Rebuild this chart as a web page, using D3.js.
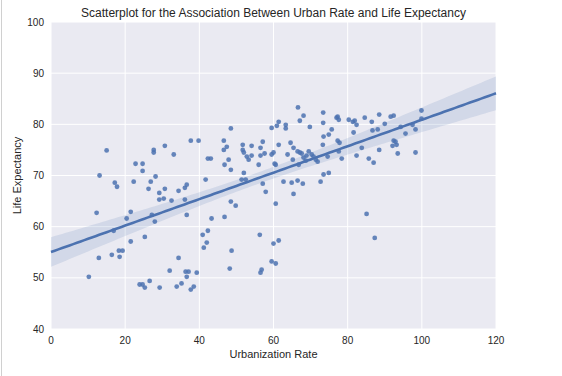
<!DOCTYPE html>
<html>
<head>
<meta charset="utf-8">
<script src="https://cdn.jsdelivr.net/npm/d3@7"></script>
<style>
  body { margin: 0; background: #fff; }
  text { font-family: "Liberation Sans", Arial, sans-serif; }
</style>
</head>
<body>
<div id="chart"></div>
<script>
// urbanization rate (x) and life expectancy (y)
const urbanRate = [
  15.0, 13.1, 17.2, 17.8, 22.8, 24.7, 24.7, 27.7, 27.7, 22.3, 26.9, 28.2, 26.3, 29.2, 29.2,
  12.3, 21.5, 20.4, 16.9, 27.2, 28.0, 21.5, 25.3, 12.9, 16.4, 18.3, 19.3, 18.5, 10.2, 23.9,
  24.7, 25.3, 26.6, 29.3,
  48.5, 37.7, 39.8, 46.6, 47.4, 46.6, 30.7, 33.1, 51.7, 54.1, 57.1, 56.5, 51.7, 52.0, 52.8,
  53.3, 54.1, 56.5, 56.0, 42.3, 43.1, 47.9, 46.8, 48.5, 30.7, 30.4, 32.5, 34.4, 36.1, 36.6,
  36.1, 41.7, 52.0, 51.4, 52.5, 57.1, 57.9, 48.5, 49.8, 36.6, 43.3, 46.8,
  40.9, 42.3, 42.0, 41.2, 56.3, 48.7, 34.4, 32.0, 36.3, 37.1, 36.6, 39.3, 48.2, 56.8, 56.5,
  33.9, 35.2, 37.7, 38.5,
  66.6, 68.1, 67.1, 61.4, 60.9, 63.3, 63.3, 59.5, 73.4, 73.4, 69.8, 77.0, 77.6, 77.3, 80.3,
  81.4, 81.9, 82.4, 84.6, 86.5, 88.5, 81.6, 86.7, 88.1, 57.6, 61.4, 64.6, 65.4, 59.5, 60.0,
  63.8, 65.2, 66.5, 67.1, 67.6, 68.1, 68.7, 68.9, 69.5, 70.3, 70.8, 71.4, 71.9, 66.8, 60.3,
  60.6, 73.3, 73.5, 74.9, 75.7, 77.3, 77.8, 74.6, 78.4, 77.6, 83.8, 82.4, 85.7, 87.0, 88.5,
  74.9, 73.5, 72.7, 62.7, 64.9, 66.5, 67.9, 65.4, 60.6, 85.1,
  60.0, 61.4, 87.3, 59.5, 60.6,
  99.9, 99.9, 91.6, 92.4, 90.0, 94.3, 97.5, 98.3, 95.6, 92.4, 92.9, 92.1, 93.2, 93.5, 98.3
];
const lifeExp = [
  74.9, 70.0, 68.6, 67.8, 72.3, 72.3, 70.9, 75.0, 74.5, 68.8, 68.8, 69.8, 67.4, 66.6, 65.3,
  62.7, 62.9, 61.6, 59.2, 62.3, 61.0, 57.1, 58.0, 53.9, 54.5, 55.3, 55.3, 54.1, 50.2, 48.7,
  48.7, 48.1, 49.4, 48.1,
  79.2, 76.8, 76.8, 76.8, 75.6, 75.0, 75.8, 74.1, 76.0, 75.8, 76.6, 75.4, 75.0, 74.5, 73.7,
  73.1, 73.9, 73.9, 72.1, 73.3, 73.3, 73.1, 72.1, 71.1, 67.4, 65.5, 65.1, 67.0, 67.6, 68.2,
  65.3, 69.2, 70.5, 69.2, 69.2, 68.4, 66.8, 64.9, 64.1, 62.3, 61.6, 61.9,
  58.4, 59.2, 56.9, 55.9, 58.4, 55.3, 53.9, 51.4, 51.2, 51.2, 50.2, 51.0, 51.8, 51.6, 51.0,
  48.3, 48.9, 47.7, 48.3,
  83.3, 81.7, 80.7, 80.5, 79.7, 79.9, 79.2, 79.3, 82.3, 80.3, 79.5, 81.3, 80.9, 81.5, 80.9,
  80.5, 80.7, 79.9, 81.3, 80.5, 81.9, 78.4, 78.8, 79.0, 74.3, 76.0, 76.4, 75.4, 74.1, 74.5,
  74.1, 73.1, 74.7, 74.5, 74.3, 73.5, 72.9, 73.9, 74.7, 74.1, 73.7, 73.1, 72.7, 72.1, 72.3,
  72.1, 76.0, 77.6, 78.0, 79.0, 76.8, 76.4, 73.7, 73.3, 74.7, 75.4, 73.9, 73.3, 72.5, 75.0,
  70.5, 70.2, 68.8, 68.8, 68.6, 69.0, 68.4, 66.4, 64.5, 62.5,
  56.7, 57.3, 57.8, 53.2, 52.8,
  82.7, 81.1, 81.5, 81.7, 80.1, 79.5, 79.9, 79.0, 78.2, 76.8, 76.6, 75.8, 76.0, 74.3, 74.5
];
const xTicks = [0, 20, 40, 60, 80, 100, 120];
const yTicks = [40, 50, 60, 70, 80, 90, 100];

const W = 562, H = 376;
const margin = { top: 22, right: 66, bottom: 47, left: 51 };
const width = W - margin.left - margin.right,
      height = H - margin.top - margin.bottom;

const root = d3.select("#chart").append("svg")
  .attr("width", W)
  .attr("height", H);

// thin frame line on the far left of the image
root.append("line")
  .attr("x1", 1.5).attr("x2", 1.5)
  .attr("y1", 0).attr("y2", H)
  .attr("stroke", "#d0d0d0");

const svg = root.append("g")
  .attr("transform", `translate(${margin.left},${margin.top})`);

const x = d3.scaleLinear().domain([0, 120]).range([0, width]);
const y = d3.scaleLinear().domain([40, 100]).range([height, 0]);

// background + grid
svg.append("rect")
  .attr("width", width).attr("height", height)
  .attr("fill", "#EAEAF2");

svg.append("g").selectAll("line")
  .data(xTicks)
  .join("line")
    .attr("x1", d => x(d)).attr("x2", d => x(d))
    .attr("y1", 0).attr("y2", height)
    .attr("stroke", "#fff").attr("stroke-width", 1);

svg.append("g").selectAll("line")
  .data(yTicks)
  .join("line")
    .attr("x1", 0).attr("x2", width)
    .attr("y1", d => y(d)).attr("y2", d => y(d))
    .attr("stroke", "#fff").attr("stroke-width", 1);

// points
const data = urbanRate.map((u, i) => ({ u: u, le: lifeExp[i] }));

svg.append("g").selectAll("circle")
  .data(data)
  .join("circle")
    .attr("cx", d => x(d.u))
    .attr("cy", d => y(d.le))
    .attr("r", 2.4)
    .attr("fill", "#4C72B0")
    .attr("fill-opacity", 0.85);

// OLS fit with 95% confidence band
const n = data.length;
const mx = d3.mean(data, d => d.u), my = d3.mean(data, d => d.le);
const sxx = d3.sum(data, d => (d.u - mx) ** 2);
const sxy = d3.sum(data, d => (d.u - mx) * (d.le - my));
const slope = sxy / sxx, icept = my - slope * mx;
const sse = d3.sum(data, d => (d.le - (icept + slope * d.u)) ** 2);
const s = Math.sqrt(sse / (n - 2));
const tcrit = 1.973;

const grid = d3.range(0, 120.01, 1).map(u => {
  const yh = icept + slope * u;
  const se = s * Math.sqrt(1 / n + (u - mx) ** 2 / sxx);
  return { u: u, yh: yh, lo: yh - tcrit * se, hi: yh + tcrit * se };
});

svg.append("path")
  .datum(grid)
  .attr("fill", "#4C72B0")
  .attr("fill-opacity", 0.15)
  .attr("d", d3.area()
    .x(d => x(d.u))
    .y0(d => y(d.lo))
    .y1(d => y(d.hi)));

svg.append("path")
  .datum(grid)
  .attr("fill", "none")
  .attr("stroke", "#4C72B0")
  .attr("stroke-width", 2.6)
  .attr("d", d3.line().x(d => x(d.u)).y(d => y(d.yh)));

// tick labels
svg.append("g").selectAll("text")
  .data(xTicks)
  .join("text")
    .attr("x", d => x(d))
    .attr("y", height + 15)
    .attr("text-anchor", "middle")
    .attr("fill", "#262626")
    .style("font-size", "10px")
    .text(d => d);

svg.append("g").selectAll("text")
  .data(yTicks)
  .join("text")
    .attr("x", -7)
    .attr("y", d => y(d) + 3.5)
    .attr("text-anchor", "end")
    .attr("fill", "#262626")
    .style("font-size", "10px")
    .text(d => d);

// axis titles + title
svg.append("text")
  .attr("x", width / 2)
  .attr("y", height + 29)
  .attr("text-anchor", "middle")
  .attr("fill", "#262626")
  .style("font-size", "11px")
  .text("Urbanization Rate");

svg.append("text")
  .attr("transform", `translate(${-30},${height / 2}) rotate(-90)`)
  .attr("text-anchor", "middle")
  .attr("fill", "#262626")
  .style("font-size", "11px")
  .text("Life Expectancy");

svg.append("text")
  .attr("x", width / 2)
  .attr("y", -5)
  .attr("text-anchor", "middle")
  .attr("fill", "#262626")
  .style("font-size", "12px")
  .text("Scatterplot for the Association Between Urban Rate and Life Expectancy");
</script>
</body>
</html>
